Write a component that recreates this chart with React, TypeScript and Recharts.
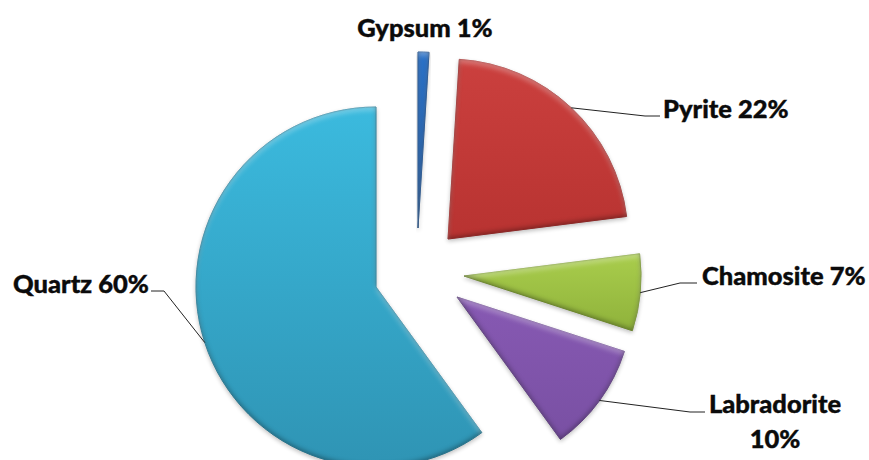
import React from "react";
import { PieChart, Pie, Sector } from "recharts";

const minerals = ["Gypsum", "Pyrite", "Chamosite", "Labradorite", "Quartz"];
const shares = [1, 22, 7, 10, 60];
const topColors = ["#2b72c8", "#cb403e", "#a9cd4c", "#8759b3", "#3bbade"];
const bottomColors = ["#1d5aa5", "#b83331", "#8fb23b", "#7950a3", "#2f94b4"];

const chartData = minerals.map((name, i) => ({ name, value: shares[i], fill: `url(#grad${i})` }));

// layout only
const FONT = "Lato, Carlito, sans-serif";
const explode = [
  { dx: 42, dy: -59, r: 176 },
  { dx: 72, dy: -48, r: 180 },
  { dx: 88, dy: -11, r: 177 },
  { dx: 81, dy: 10, r: 176 },
  { dx: 0, dy: 0, r: 180 },
];
const leader = [
  null,
  [[645, 116], [660, 116]],
  [[680, 283], [697, 283]],
  [[690, 412], [705, 412]],
  [[164, 291], [151, 291]],
];
const textPos = [
  { x: 425, y: 37, anchor: "middle" },
  { x: 663, y: 118, anchor: "start" },
  { x: 702, y: 285, anchor: "start" },
  { x: 775, y: 413, anchor: "middle" },
  { x: 13, y: 293, anchor: "start" },
];

function Slice(props: any) {
  const i = props.index;
  const e = explode[i];
  return (
    <g filter="url(#bevel)">
      <Sector
        cx={props.cx + e.dx}
        cy={props.cy + e.dy}
        innerRadius={0}
        outerRadius={e.r}
        startAngle={props.startAngle}
        endAngle={props.endAngle}
        fill={`url(#grad${i})`}
        stroke={bottomColors[i]}
        strokeWidth={1}
      />
    </g>
  );
}

function Label(props: any) {
  const i = props.index;
  const e = explode[i];
  const rad = (props.midAngle * Math.PI) / 180;
  const sx = props.cx + e.dx + e.r * Math.cos(rad);
  const sy = props.cy + e.dy - e.r * Math.sin(rad);
  const line = leader[i];
  const t = textPos[i];
  const pct = `${shares[i]}%`;
  const name = minerals[i];
  const common = {
    fontFamily: FONT,
    fontWeight: 900,
    fontSize: 25.5,
    fill: "#0b0b0b",
    stroke: "#0b0b0b",
    strokeWidth: 0.4,
    textAnchor: t.anchor as any,
  };
  return (
    <g>
      {line && (
        <polyline
          points={[[sx, sy], ...line].map((p) => p.join(",")).join(" ")}
          fill="none"
          stroke="#222"
          strokeWidth={1}
        />
      )}
      {name === "Labradorite" ? (
        <text {...common} x={t.x} y={t.y}>
          <tspan x={t.x}>{name}</tspan>
          <tspan x={t.x} dy={35}>{pct}</tspan>
        </text>
      ) : (
        <text {...common} x={t.x} y={t.y}>{`${name} ${pct}`}</text>
      )}
    </g>
  );
}

export default function App() {
  return (
    <div style={{ position: "absolute", left: 0, top: 0, width: 869, height: 460, background: "#fff", overflow: "hidden" }}>
      <PieChart width={869} height={460} margin={{ top: 0, right: 0, bottom: 0, left: 0 }}>
        <defs>
          {minerals.map((_, i) => (
            <linearGradient key={i} id={`grad${i}`} x1="0" y1="0" x2="0" y2="1">
              <stop offset="0%" stopColor={topColors[i]} />
              <stop offset="100%" stopColor={bottomColors[i]} />
            </linearGradient>
          ))}
          <filter id="bevel" x="-10%" y="-10%" width="120%" height="120%" colorInterpolationFilters="sRGB">
            <feGaussianBlur in="SourceAlpha" stdDeviation="2.5" result="blur" />
            <feOffset in="blur" dy="4" result="down" />
            <feComposite in="SourceAlpha" in2="down" operator="out" result="topEdge" />
            <feFlood floodColor="#ffffff" floodOpacity="0.3" />
            <feComposite in2="topEdge" operator="in" result="light" />
            <feOffset in="blur" dy="-2" result="up" />
            <feComposite in="SourceAlpha" in2="up" operator="out" result="bottomEdge" />
            <feFlood floodColor="#000000" floodOpacity="0.35" />
            <feComposite in2="bottomEdge" operator="in" result="dark" />
            <feGaussianBlur in="SourceAlpha" stdDeviation="2" />
            <feOffset dy="2" />
            <feComponentTransfer result="shadow">
              <feFuncA type="linear" slope="0.25" />
            </feComponentTransfer>
            <feMerge>
              <feMergeNode in="shadow" />
              <feMergeNode in="SourceGraphic" />
              <feMergeNode in="light" />
              <feMergeNode in="dark" />
            </feMerge>
          </filter>
        </defs>
        <Pie
          data={chartData}
          dataKey="value"
          nameKey="name"
          cx={376}
          cy={287}
          innerRadius={0}
          outerRadius={180}
          startAngle={90}
          endAngle={-270}
          paddingAngle={0}
          stroke="none"
          isAnimationActive={false}
          shape={Slice}
          label={Label}
          labelLine={false}
        />
      </PieChart>
    </div>
  );
}
